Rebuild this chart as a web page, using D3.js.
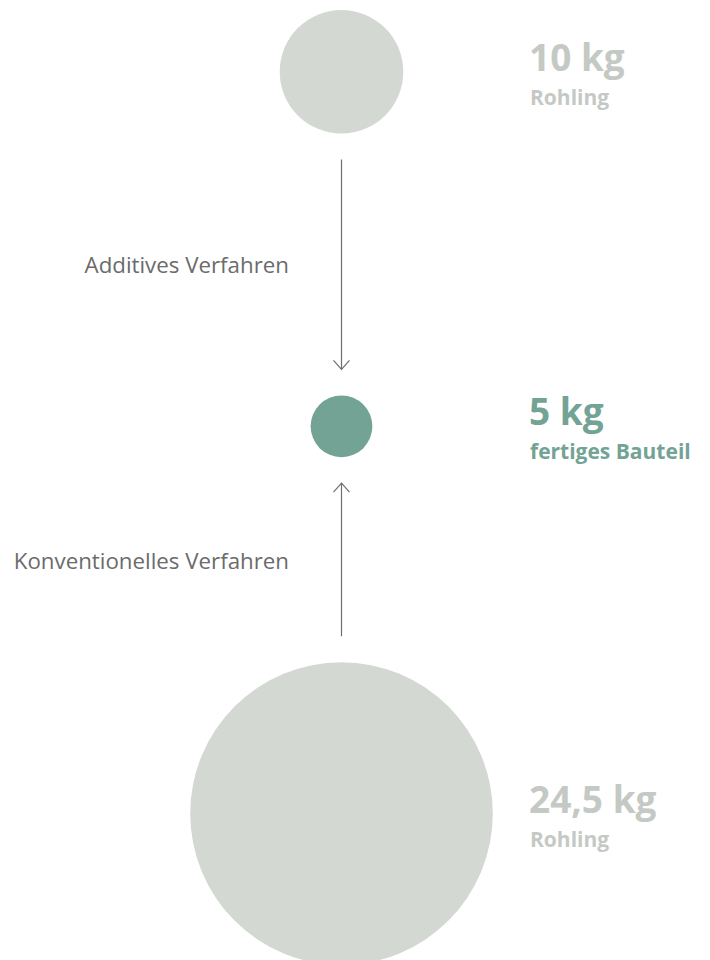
<!DOCTYPE html>
<html>
<head>
<meta charset="utf-8">
<script src="https://cdn.jsdelivr.net/npm/d3@7"></script>
<style>
    html, body { margin: 0; padding: 0; background: #fff; }
    #chart { width: 710px; height: 960px; overflow: hidden; }
    text { font-family: "Open Sans", "Noto Sans", sans-serif; }
    .value { font-size: 37px; font-weight: 700; }
    .sub { font-size: 21px; font-weight: 700; }
    .process { font-size: 22.3px; font-weight: 400; fill: #6b6b6b; }
</style>
</head>
<body>
<div id="chart"></div>
<script>
// Daten
const items = ["Rohling additiv", "fertiges Bauteil", "Rohling konventionell"];
const weights = [10, 5, 24.5];
const valueLabels = ["10 kg", "5 kg", "24,5 kg"];
const subLabels = ["Rohling", "fertiges Bauteil", "Rohling"];
const processes = ["Additives Verfahren", "Konventionelles Verfahren"];

// Größen
const width = 710, height = 960;
const cx = 341.5;
const gap = 26;
const grey = "#d3d8d3", greyText = "#c4c9c4", teal = "#73a395";
const lineColor = "#6e6e6e";

const svg = d3.select("#chart").append("svg")
    .attr("width", width)
    .attr("height", height);

// Radius linear zum Gewicht
const r = d3.scaleLinear()
    .domain([0, d3.max(weights)])
    .range([0, 151.3]);

// vertikale Lage der Kreise
const centers = [
    10 + r(weights[0]),
    426.3,
    662.3 + r(weights[2])
];

const nodes = items.map(function (name, i) {
    return {name: name, value: weights[i], cy: centers[i], label: valueLabels[i], sub: subLabels[i],
        color: i === 1 ? teal : grey, textColor: i === 1 ? teal : greyText};
});

svg.selectAll(".bubble")
    .data(nodes)
    .enter()
    .append("circle")
    .attr("class", "bubble")
    .attr("cx", cx)
    .attr("cy", function (d) { return d.cy; })
    .attr("r", function (d) { return r(d.value); })
    .attr("fill", function (d) { return d.color; });

svg.selectAll(".value")
    .data(nodes)
    .enter()
    .append("text")
    .attr("class", "value")
    .attr("x", 529)
    .attr("y", function (d) { return d.cy - 1; })
    .attr("fill", function (d) { return d.textColor; })
    .text(function (d) { return d.label; });

svg.selectAll(".sub")
    .data(nodes)
    .enter()
    .append("text")
    .attr("class", "sub")
    .attr("x", 530)
    .attr("y", function (d) { return d.cy + 33; })
    .attr("fill", function (d) { return d.textColor; })
    .text(function (d) { return d.sub; });

// Pfeile: vom Rohling zum fertigen Bauteil
const arrows = [
    {from: nodes[0].cy + r(nodes[0].value) + gap, to: nodes[1].cy - r(nodes[1].value) - gap, label: processes[0]},
    {from: nodes[2].cy - r(nodes[2].value) - gap, to: nodes[1].cy + r(nodes[1].value) + gap, label: processes[1]}
];

const arrowG = svg.selectAll(".arrow")
    .data(arrows)
    .enter()
    .append("g")
    .attr("class", "arrow");

arrowG.append("line")
    .attr("x1", cx).attr("x2", cx)
    .attr("y1", function (d) { return d.from; })
    .attr("y2", function (d) { return d.to; })
    .attr("stroke", lineColor)
    .attr("stroke-width", 1.2);

arrowG.append("path")
    .attr("d", function (d) {
        const dir = d.to > d.from ? -1 : 1;
        return "M" + (cx - 8) + "," + (d.to + dir * 9) + "L" + cx + "," + d.to + "L" + (cx + 8) + "," + (d.to + dir * 9);
    })
    .attr("fill", "none")
    .attr("stroke", lineColor)
    .attr("stroke-width", 1.2);

arrowG.append("text")
    .attr("class", "process")
    .attr("x", 289)
    .attr("y", function (d) { return (d.from + d.to) / 2 + 9; })
    .attr("text-anchor", "end")
    .text(function (d) { return d.label; });
</script>
</body>
</html>
